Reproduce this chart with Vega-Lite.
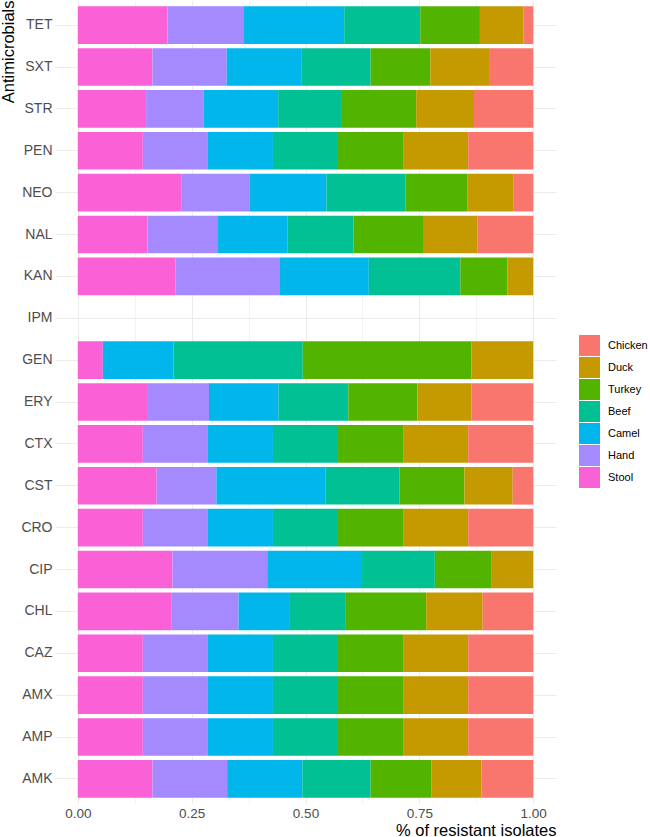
{
  "$schema": "https://vega.github.io/schema/vega-lite/v6.json",
  "width": 501,
  "height": 804,
  "autosize": {"type": "none"},
  "padding": {"left": 55, "top": 0, "right": 94, "bottom": 33},
  "background": "white",
  "config": {
    "view": {"stroke": null},
    "font": "Liberation Sans"
  },
  "data": {
    "values": [
      {"drug": "TET", "source": "Stool", "pct": 19.7},
      {"drug": "TET", "source": "Hand", "pct": 16.8},
      {"drug": "TET", "source": "Camel", "pct": 22.0},
      {"drug": "TET", "source": "Beef", "pct": 16.7},
      {"drug": "TET", "source": "Turkey", "pct": 13.1},
      {"drug": "TET", "source": "Duck", "pct": 9.6},
      {"drug": "TET", "source": "Chicken", "pct": 2.1},
      {"drug": "SXT", "source": "Stool", "pct": 16.4},
      {"drug": "SXT", "source": "Hand", "pct": 16.3},
      {"drug": "SXT", "source": "Camel", "pct": 16.5},
      {"drug": "SXT", "source": "Beef", "pct": 15.1},
      {"drug": "SXT", "source": "Turkey", "pct": 13.1},
      {"drug": "SXT", "source": "Duck", "pct": 12.9},
      {"drug": "SXT", "source": "Chicken", "pct": 9.7},
      {"drug": "STR", "source": "Stool", "pct": 15.0},
      {"drug": "STR", "source": "Hand", "pct": 12.6},
      {"drug": "STR", "source": "Camel", "pct": 16.4},
      {"drug": "STR", "source": "Beef", "pct": 14.0},
      {"drug": "STR", "source": "Turkey", "pct": 16.3},
      {"drug": "STR", "source": "Duck", "pct": 12.7},
      {"drug": "STR", "source": "Chicken", "pct": 13.0},
      {"drug": "PEN", "source": "Stool", "pct": 14.3},
      {"drug": "PEN", "source": "Hand", "pct": 14.3},
      {"drug": "PEN", "source": "Camel", "pct": 14.3},
      {"drug": "PEN", "source": "Beef", "pct": 14.3},
      {"drug": "PEN", "source": "Turkey", "pct": 14.3},
      {"drug": "PEN", "source": "Duck", "pct": 14.3},
      {"drug": "PEN", "source": "Chicken", "pct": 14.3},
      {"drug": "NEO", "source": "Stool", "pct": 22.7},
      {"drug": "NEO", "source": "Hand", "pct": 15.0},
      {"drug": "NEO", "source": "Camel", "pct": 16.9},
      {"drug": "NEO", "source": "Beef", "pct": 17.4},
      {"drug": "NEO", "source": "Turkey", "pct": 13.6},
      {"drug": "NEO", "source": "Duck", "pct": 10.0},
      {"drug": "NEO", "source": "Chicken", "pct": 4.4},
      {"drug": "NAL", "source": "Stool", "pct": 15.3},
      {"drug": "NAL", "source": "Hand", "pct": 15.5},
      {"drug": "NAL", "source": "Camel", "pct": 15.3},
      {"drug": "NAL", "source": "Beef", "pct": 14.4},
      {"drug": "NAL", "source": "Turkey", "pct": 15.3},
      {"drug": "NAL", "source": "Duck", "pct": 12.0},
      {"drug": "NAL", "source": "Chicken", "pct": 12.2},
      {"drug": "KAN", "source": "Stool", "pct": 21.4},
      {"drug": "KAN", "source": "Hand", "pct": 23.0},
      {"drug": "KAN", "source": "Camel", "pct": 19.5},
      {"drug": "KAN", "source": "Beef", "pct": 20.1},
      {"drug": "KAN", "source": "Turkey", "pct": 10.3},
      {"drug": "KAN", "source": "Duck", "pct": 5.7},
      {"drug": "GEN", "source": "Stool", "pct": 5.5},
      {"drug": "GEN", "source": "Camel", "pct": 15.5},
      {"drug": "GEN", "source": "Beef", "pct": 28.4},
      {"drug": "GEN", "source": "Turkey", "pct": 37.0},
      {"drug": "GEN", "source": "Duck", "pct": 13.6},
      {"drug": "ERY", "source": "Stool", "pct": 15.2},
      {"drug": "ERY", "source": "Hand", "pct": 13.6},
      {"drug": "ERY", "source": "Camel", "pct": 15.3},
      {"drug": "ERY", "source": "Beef", "pct": 15.3},
      {"drug": "ERY", "source": "Turkey", "pct": 15.2},
      {"drug": "ERY", "source": "Duck", "pct": 11.8},
      {"drug": "ERY", "source": "Chicken", "pct": 13.6},
      {"drug": "CTX", "source": "Stool", "pct": 14.3},
      {"drug": "CTX", "source": "Hand", "pct": 14.3},
      {"drug": "CTX", "source": "Camel", "pct": 14.3},
      {"drug": "CTX", "source": "Beef", "pct": 14.3},
      {"drug": "CTX", "source": "Turkey", "pct": 14.3},
      {"drug": "CTX", "source": "Duck", "pct": 14.3},
      {"drug": "CTX", "source": "Chicken", "pct": 14.3},
      {"drug": "CST", "source": "Stool", "pct": 17.3},
      {"drug": "CST", "source": "Hand", "pct": 13.1},
      {"drug": "CST", "source": "Camel", "pct": 23.9},
      {"drug": "CST", "source": "Beef", "pct": 16.3},
      {"drug": "CST", "source": "Turkey", "pct": 14.2},
      {"drug": "CST", "source": "Duck", "pct": 10.6},
      {"drug": "CST", "source": "Chicken", "pct": 4.5},
      {"drug": "CRO", "source": "Stool", "pct": 14.3},
      {"drug": "CRO", "source": "Hand", "pct": 14.3},
      {"drug": "CRO", "source": "Camel", "pct": 14.3},
      {"drug": "CRO", "source": "Beef", "pct": 14.3},
      {"drug": "CRO", "source": "Turkey", "pct": 14.3},
      {"drug": "CRO", "source": "Duck", "pct": 14.3},
      {"drug": "CRO", "source": "Chicken", "pct": 14.3},
      {"drug": "CIP", "source": "Stool", "pct": 20.8},
      {"drug": "CIP", "source": "Hand", "pct": 20.8},
      {"drug": "CIP", "source": "Camel", "pct": 20.8},
      {"drug": "CIP", "source": "Beef", "pct": 16.0},
      {"drug": "CIP", "source": "Turkey", "pct": 12.5},
      {"drug": "CIP", "source": "Duck", "pct": 9.1},
      {"drug": "CHL", "source": "Stool", "pct": 20.5},
      {"drug": "CHL", "source": "Hand", "pct": 14.8},
      {"drug": "CHL", "source": "Camel", "pct": 11.1},
      {"drug": "CHL", "source": "Beef", "pct": 12.3},
      {"drug": "CHL", "source": "Turkey", "pct": 17.8},
      {"drug": "CHL", "source": "Duck", "pct": 12.4},
      {"drug": "CHL", "source": "Chicken", "pct": 11.1},
      {"drug": "CAZ", "source": "Stool", "pct": 14.3},
      {"drug": "CAZ", "source": "Hand", "pct": 14.3},
      {"drug": "CAZ", "source": "Camel", "pct": 14.3},
      {"drug": "CAZ", "source": "Beef", "pct": 14.3},
      {"drug": "CAZ", "source": "Turkey", "pct": 14.3},
      {"drug": "CAZ", "source": "Duck", "pct": 14.3},
      {"drug": "CAZ", "source": "Chicken", "pct": 14.3},
      {"drug": "AMX", "source": "Stool", "pct": 14.3},
      {"drug": "AMX", "source": "Hand", "pct": 14.3},
      {"drug": "AMX", "source": "Camel", "pct": 14.3},
      {"drug": "AMX", "source": "Beef", "pct": 14.3},
      {"drug": "AMX", "source": "Turkey", "pct": 14.3},
      {"drug": "AMX", "source": "Duck", "pct": 14.3},
      {"drug": "AMX", "source": "Chicken", "pct": 14.3},
      {"drug": "AMP", "source": "Stool", "pct": 14.3},
      {"drug": "AMP", "source": "Hand", "pct": 14.3},
      {"drug": "AMP", "source": "Camel", "pct": 14.3},
      {"drug": "AMP", "source": "Beef", "pct": 14.3},
      {"drug": "AMP", "source": "Turkey", "pct": 14.3},
      {"drug": "AMP", "source": "Duck", "pct": 14.3},
      {"drug": "AMP", "source": "Chicken", "pct": 14.3},
      {"drug": "AMK", "source": "Stool", "pct": 16.4},
      {"drug": "AMK", "source": "Hand", "pct": 16.4},
      {"drug": "AMK", "source": "Camel", "pct": 16.5},
      {"drug": "AMK", "source": "Beef", "pct": 15.0},
      {"drug": "AMK", "source": "Turkey", "pct": 13.3},
      {"drug": "AMK", "source": "Duck", "pct": 11.0},
      {"drug": "AMK", "source": "Chicken", "pct": 11.4}
    ]
  },
  "transform": [
    {"calculate": "indexof(['Stool','Hand','Camel','Beef','Turkey','Duck','Chicken'], datum.source)", "as": "stackRank"}
  ],
  "mark": {"type": "bar"},
  "encoding": {
    "y": {
      "field": "drug",
      "type": "nominal",
      "scale": {
        "domain": ["TET","SXT","STR","PEN","NEO","NAL","KAN","IPM","GEN","ERY","CTX","CST","CRO","CIP","CHL","CAZ","AMX","AMP","AMK"],
        "paddingInner": 0.1,
        "paddingOuter": 0.15
      },
      "axis": {
        "title": "Antimicrobials",
        "titleFont": "Liberation Sans",
        "titleFontSize": 16.5,
        "titleFontWeight": "normal",
        "titleColor": "#000000",
        "titleAngle": 270,
        "titleAlign": "right",
        "titleBaseline": "alphabetic",
        "titleX": -42,
        "titleY": 0,
        "labelFont": "Liberation Sans",
        "labelFontSize": 14,
        "labelColor": "#4D4D4D",
        "labelPadding": 3,
        "ticks": false,
        "tickSize": 0,
        "domain": false,
        "grid": true,
        "gridColor": "#EBEBEB",
        "gridWidth": 1,
        "bandPosition": 0.5
      }
    },
    "x": {
      "field": "pct",
      "type": "quantitative",
      "stack": "normalize",
      "scale": {"domain": [-0.05, 1.05], "nice": false, "zero": false},
      "axis": {
        "title": "% of resistant isolates",
        "titleFont": "Liberation Sans",
        "titleFontSize": 16.5,
        "titleFontWeight": "normal",
        "titleColor": "#000000",
        "titleAnchor": "end",
        "titleAlign": "right",
        "titleBaseline": "alphabetic",
        "titleX": 501,
        "titleY": 31,
        "values": [0, 0.125, 0.25, 0.375, 0.5, 0.625, 0.75, 0.875, 1],
        "labelExpr": "(datum.value * 8) % 2 == 0 ? format(datum.value, '.2f') : ''",
        "labelFont": "Liberation Sans",
        "labelFontSize": 13.5,
        "labelColor": "#4D4D4D",
        "labelPadding": 2,
        "labelBaseline": "top",
        "ticks": false,
        "tickSize": 0,
        "domain": false,
        "grid": true,
        "gridColor": "#EBEBEB",
        "gridWidth": {"condition": {"test": "(datum.value * 8) % 2 == 1", "value": 0.6}, "value": 1}
      }
    },
    "color": {
      "field": "source",
      "type": "nominal",
      "scale": {
        "domain": ["Chicken","Duck","Turkey","Beef","Camel","Hand","Stool"],
        "range": ["#F8766D","#C49A00","#53B400","#00C094","#00B6EB","#A58AFF","#FB61D7"]
      },
      "legend": {
        "title": null,
        "orient": "none",
        "legendX": 524,
        "legendY": 335,
        "padding": 0,
        "symbolType": "square",
        "symbolSize": 441,
        "symbolStrokeWidth": 0,
        "symbolOpacity": 1,
        "rowPadding": 1,
        "labelOffset": 8,
        "labelFont": "Liberation Sans",
        "labelFontSize": 11,
        "labelColor": "#000000"
      }
    },
    "order": {"field": "stackRank", "type": "quantitative", "sort": "ascending"}
  }
}
